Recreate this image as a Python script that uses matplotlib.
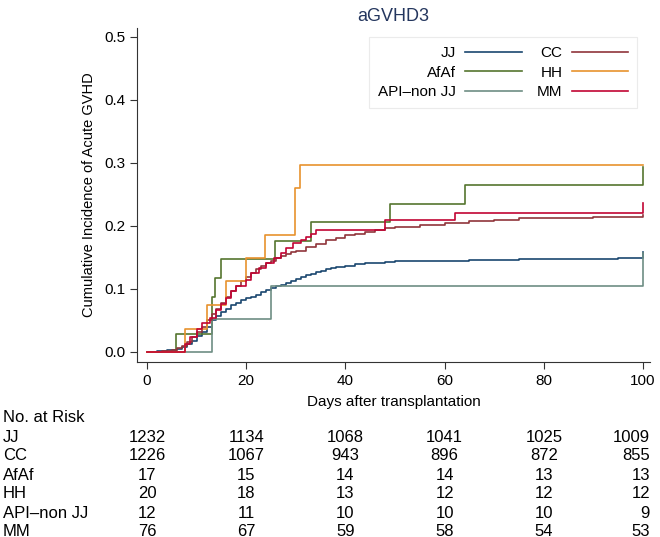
import matplotlib
matplotlib.use('Agg')
import matplotlib.pyplot as plt
from matplotlib.transforms import blended_transform_factory

plt.rcParams['font.family'] = ['Liberation Sans', 'DejaVu Sans']

# Curvas de incidência acumulada
jj_t = [0, 2, 4, 6, 7, 8, 9, 10, 11, 12, 13, 14, 15, 16, 17, 18, 19, 20, 21, 22, 23, 24, 25,
        26, 27, 28, 29, 30, 31, 32, 33, 34, 35, 36, 37, 38, 40, 42, 44, 46, 48, 50, 55, 65,
        75, 85, 95, 100]
jj_v = [0, 0.002, 0.003, 0.005, 0.008, 0.012, 0.018, 0.025, 0.032, 0.04, 0.05, 0.057, 0.063,
        0.069, 0.074, 0.078, 0.082, 0.085, 0.088, 0.091, 0.095, 0.098, 0.101, 0.104, 0.107,
        0.11, 0.113, 0.116, 0.119, 0.122, 0.124, 0.127, 0.129, 0.131, 0.133, 0.135, 0.137,
        0.139, 0.141, 0.142, 0.143, 0.144, 0.145, 0.146, 0.147, 0.148, 0.149, 0.158]

cc_t = [0, 3, 5, 6, 7, 8, 9, 10, 11, 12, 13, 14, 15, 16, 17, 18, 19, 20, 21, 22, 23, 24, 25,
        26, 27, 28, 29, 30, 32, 34, 36, 38, 40, 42, 44, 46, 48, 50, 55, 60, 65, 70, 75, 80,
        90, 100]
cc_v = [0, 0.001, 0.003, 0.006, 0.01, 0.016, 0.023, 0.031, 0.04, 0.05, 0.06, 0.069, 0.078,
        0.087, 0.096, 0.104, 0.112, 0.119, 0.125, 0.131, 0.136, 0.141, 0.145, 0.149, 0.152,
        0.155, 0.158, 0.161, 0.167, 0.172, 0.177, 0.181, 0.185, 0.188, 0.191, 0.194, 0.196,
        0.198, 0.202, 0.205, 0.208, 0.21, 0.212, 0.213, 0.215, 0.217]

afaf_t = [0, 5.8, 13, 13.7, 15, 25.8, 33, 49, 64, 100]
afaf_v = [0, 0.029, 0.088, 0.117, 0.147, 0.176, 0.206, 0.235, 0.265, 0.294]

hh_t = [0, 7.7, 12, 16, 20, 23.8, 29.8, 30.9, 100]
hh_v = [0, 0.037, 0.075, 0.112, 0.149, 0.186, 0.26, 0.297, 0.297]

api_t = [0, 13, 25, 100]
api_v = [0, 0.052, 0.105, 0.157]

mm_t = [0, 7.7, 8.7, 10, 11, 12.7, 14, 15, 16, 17, 18, 20, 21, 22.5, 24, 25.5, 27, 28, 29.5,
        31, 32, 33, 34, 48, 62, 100]
mm_v = [0, 0.012, 0.024, 0.036, 0.046, 0.054, 0.066, 0.076, 0.086, 0.096, 0.105, 0.114, 0.125,
        0.133, 0.141, 0.149, 0.157, 0.165, 0.173, 0.178, 0.183, 0.188, 0.194, 0.21, 0.221,
        0.236]

# Tabela de número em risco
risk_days = [0, 20, 40, 60, 80, 100]
risk_groups = ['JJ', 'CC', 'AfAf', 'HH', 'API\u2013non JJ', 'MM']
risk_jj = [1232, 1134, 1068, 1041, 1025, 1009]
risk_cc = [1226, 1067, 943, 896, 872, 855]
risk_afaf = [17, 15, 14, 14, 13, 13]
risk_hh = [20, 18, 13, 12, 12, 12]
risk_api = [12, 11, 10, 10, 10, 9]
risk_mm = [76, 67, 59, 58, 54, 53]

fig = plt.figure(figsize=(6.6, 5.37), dpi=100)
ax = fig.add_axes([0.2076, 0.3259, 0.7773, 0.622])

lw = 1.2
ax.step(jj_t, jj_v, where='post', color='#1a476f', lw=lw, label='JJ')
ax.step(afaf_t, afaf_v, where='post', color='#55752f', lw=lw, label='AfAf')
ax.step(api_t, api_v, where='post', color='#6e8e84', lw=lw, label='API\u2013non JJ')
ax.step(cc_t, cc_v, where='post', color='#90353b', lw=lw, label='CC')
ax.step(hh_t, hh_v, where='post', color='#e8922e', lw=lw, label='HH')
ax.step(mm_t, mm_v, where='post', color='#c10534', lw=lw, label='MM')

ax.set_xlim(-2.02, 101.4)
ax.set_ylim(-0.0159, 0.5143)
ax.set_xticks([0, 20, 40, 60, 80, 100])
ax.set_yticks([0, 0.1, 0.2, 0.3, 0.4, 0.5])
ax.set_yticklabels(['0.0', '0.1', '0.2', '0.3', '0.4', '0.5'])
ax.tick_params(direction='out', length=5, width=0.8, colors='#333333', labelsize=11,
               labelcolor='black')
ax.spines['top'].set_visible(False)
ax.spines['right'].set_visible(False)
for s in ['left', 'bottom']:
    ax.spines[s].set_color('#333333')
    ax.spines[s].set_linewidth(0.8)

ax.set_xlabel('Days after transplantation', fontsize=11, labelpad=5)
ax.set_ylabel('Cumulative Incidence of Acute GVHD', fontsize=10.5, labelpad=6)
ax.set_title('aGVHD3', fontsize=13, color='#24365e', pad=5)

leg = ax.legend(ncol=2, markerfirst=False, loc='upper right', bbox_to_anchor=(0.99, 0.995),
                fontsize=11, handlelength=3.7, frameon=True, fancybox=False,
                edgecolor='#e6e6e6', columnspacing=1.0, labelspacing=0.35,
                borderpad=0.6, handletextpad=0.6)
leg.get_frame().set_linewidth(0.8)

# Número em risco (última coluna alinhada à direita, como no original)
tr = blended_transform_factory(ax.transData, fig.transFigure)
x_end = ax.get_xlim()[1]
fig.text(3 / 660, 1 - 417 / 537, 'No. at Risk', fontsize=12, va='center')
rows = [risk_jj, risk_cc, risk_afaf, risk_hh, risk_api, risk_mm]
row_y = [437, 456, 475, 494, 513, 531]
for name, vals, py in zip(risk_groups, rows, row_y):
    fig.text(3 / 660, 1 - py / 537, name, fontsize=12, va='center')
    for d, v in zip(risk_days, vals):
        if d == risk_days[-1]:
            ax.text(x_end, 1 - py / 537, str(v), transform=tr, fontsize=12, ha='right',
                    va='center', clip_on=False)
        else:
            ax.text(d, 1 - py / 537, str(v), transform=tr, fontsize=12, ha='center',
                    va='center', clip_on=False)

fig.savefig('out.png', dpi=100)
